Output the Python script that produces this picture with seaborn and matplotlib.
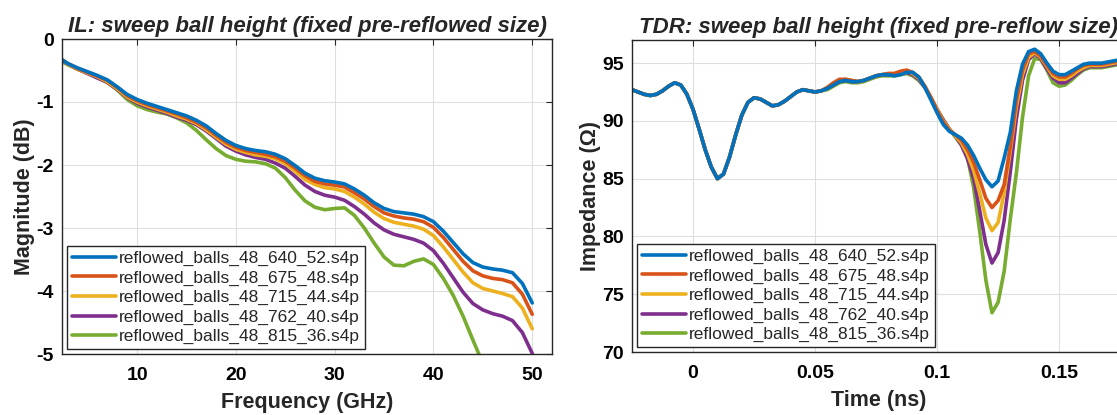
import numpy as np
import pandas as pd
import matplotlib
matplotlib.use('Agg')
import matplotlib.pyplot as plt
import seaborn as sns

labels = ['reflowed_balls_48_640_52.s4p', 'reflowed_balls_48_675_48.s4p',
          'reflowed_balls_48_715_44.s4p', 'reflowed_balls_48_762_40.s4p',
          'reflowed_balls_48_815_36.s4p']
colors = ['#0072BD', '#D95319', '#EDB120', '#7E2F8E', '#77AC30']

# --- insertion loss, dB vs GHz ---
freq_ghz = [2.4, 3, 4, 5, 6, 7, 8, 9, 10, 11, 12, 13, 14, 15, 16, 17, 18, 19, 20,
            21, 22, 23, 24, 25, 26, 27, 28, 29, 30, 31, 32, 33, 34, 35, 36, 37, 38,
            39, 40, 41, 42, 43, 44, 45, 46, 47, 48, 49, 50]

il_640_52 = [-0.33, -0.39, -0.46, -0.52, -0.58, -0.65, -0.76, -0.88, -0.96, -1.02,
             -1.07, -1.12, -1.17, -1.22, -1.29, -1.38, -1.50, -1.61, -1.69, -1.74,
             -1.77, -1.79, -1.83, -1.90, -2.01, -2.13, -2.21, -2.25, -2.27, -2.30,
             -2.38, -2.48, -2.60, -2.69, -2.74, -2.76, -2.78, -2.82, -2.90, -3.05,
             -3.23, -3.41, -3.55, -3.62, -3.65, -3.67, -3.71, -3.88, -4.19]
il_675_48 = [-0.33, -0.39, -0.47, -0.53, -0.59, -0.66, -0.77, -0.90, -0.98, -1.04,
             -1.09, -1.14, -1.19, -1.25, -1.32, -1.41, -1.53, -1.64, -1.72, -1.77,
             -1.80, -1.83, -1.87, -1.94, -2.05, -2.17, -2.26, -2.30, -2.32, -2.35,
             -2.44, -2.54, -2.66, -2.76, -2.81, -2.84, -2.86, -2.90, -2.99, -3.15,
             -3.34, -3.53, -3.68, -3.76, -3.80, -3.82, -3.87, -4.05, -4.37]
il_715_44 = [-0.33, -0.40, -0.48, -0.54, -0.60, -0.68, -0.79, -0.92, -1.00, -1.06,
             -1.11, -1.16, -1.22, -1.27, -1.34, -1.44, -1.56, -1.67, -1.75, -1.80,
             -1.84, -1.86, -1.90, -1.98, -2.10, -2.23, -2.31, -2.36, -2.38, -2.42,
             -2.51, -2.62, -2.75, -2.85, -2.91, -2.94, -2.97, -3.02, -3.12, -3.30,
             -3.50, -3.70, -3.87, -3.96, -4.00, -4.04, -4.09, -4.27, -4.60]
il_762_40 = [-0.34, -0.40, -0.48, -0.55, -0.62, -0.69, -0.80, -0.93, -1.02, -1.08,
             -1.13, -1.18, -1.24, -1.29, -1.36, -1.46, -1.58, -1.70, -1.78, -1.84,
             -1.88, -1.91, -1.97, -2.05, -2.18, -2.32, -2.42, -2.48, -2.51, -2.56,
             -2.66, -2.78, -2.92, -3.03, -3.10, -3.14, -3.18, -3.24, -3.36, -3.56,
             -3.79, -4.02, -4.20, -4.30, -4.36, -4.40, -4.47, -4.66, -4.99]
il_815_36 = [-0.36, -0.41, -0.48, -0.54, -0.61, -0.69, -0.81, -0.96, -1.06, -1.12,
             -1.16, -1.19, -1.25, -1.33, -1.45, -1.60, -1.74, -1.85, -1.91, -1.94,
             -1.95, -1.98, -2.05, -2.20, -2.40, -2.57, -2.67, -2.71, -2.69, -2.68,
             -2.80, -3.00, -3.24, -3.46, -3.59, -3.60, -3.53, -3.49, -3.58, -3.80,
             -4.07, -4.40, -4.78, -5.15, -5.45, -5.70, -5.90, -6.10, -6.35]

# --- TDR, ohm vs ns ---
time_ns = [-0.025, -0.0225, -0.02, -0.0175, -0.015, -0.0125, -0.01, -0.0075, -0.005, -0.0025,
           0.0, 0.0025, 0.005, 0.0075, 0.01, 0.0125, 0.015, 0.0175, 0.02, 0.0225,
           0.025, 0.0275, 0.03, 0.0325, 0.035, 0.0375, 0.04, 0.0425, 0.045, 0.0475,
           0.05, 0.0525, 0.055, 0.0575, 0.06, 0.0625, 0.065, 0.0675, 0.07, 0.0725,
           0.075, 0.0775, 0.08, 0.0825, 0.085, 0.0875, 0.09, 0.0925, 0.095, 0.0975,
           0.1, 0.1025, 0.105, 0.1075, 0.11, 0.1125, 0.115, 0.1175, 0.12, 0.1225,
           0.125, 0.1275, 0.13, 0.1325, 0.135, 0.1375, 0.14, 0.1425, 0.145, 0.1475,
           0.15, 0.1525, 0.155, 0.1575, 0.16, 0.1625, 0.165, 0.1675, 0.17, 0.1725, 0.175]

# all five traces coincide up to ~0.055 ns
tdr_shared = [92.7, 92.5, 92.3, 92.2, 92.3, 92.6, 93.0, 93.3, 93.1, 92.3,
              91.0, 89.3, 87.5, 86.0, 85.0, 85.4, 86.9, 88.8, 90.5, 91.6,
              92.0, 91.9, 91.6, 91.3, 91.4, 91.7, 92.1, 92.5, 92.7, 92.6,
              92.5, 92.6]
tdr_640_52 = [92.8, 93.1, 93.4, 93.5, 93.4, 93.4, 93.5, 93.7, 93.9, 94.0,
              94.0, 93.9, 94.0, 94.2, 94.2, 93.8, 92.9, 91.8, 90.7, 89.7,
              89.1, 88.8, 88.5, 87.9, 87.0, 85.9, 84.9, 84.3, 84.8, 86.8,
              89.0, 92.6, 94.9, 96.0, 96.2, 95.8, 95.0, 94.3, 94.0, 94.0,
              94.3, 94.6, 94.9, 95.0, 95.0, 95.0, 95.1, 95.2, 95.3]
tdr_675_48 = [92.9, 93.3, 93.6, 93.6, 93.5, 93.4, 93.5, 93.7, 93.9, 94.0,
              94.1, 94.1, 94.3, 94.4, 94.2, 93.8, 93.0, 92.0, 90.9, 89.9,
              89.2, 88.8, 88.3, 87.5, 86.4, 84.9, 83.3, 82.5, 83.1, 84.5,
              87.8, 91.8, 94.4, 95.8, 96.0, 95.6, 94.8, 94.1, 93.8, 93.8,
              94.1, 94.5, 94.8, 94.9, 94.9, 94.9, 95.0, 95.1, 95.2]
tdr_715_44 = [92.8, 93.2, 93.5, 93.6, 93.5, 93.4, 93.5, 93.7, 93.9, 94.0,
              94.1, 94.1, 94.2, 94.3, 94.1, 93.7, 93.0, 92.0, 91.0, 90.0,
              89.3, 88.7, 88.1, 87.1, 85.7, 83.7, 81.6, 80.5, 81.2, 83.8,
              87.4, 91.2, 94.0, 95.5, 95.9, 95.5, 94.7, 93.9, 93.6, 93.6,
              93.9, 94.3, 94.6, 94.8, 94.8, 94.8, 94.9, 95.0, 95.1]
tdr_762_40 = [92.8, 93.1, 93.4, 93.5, 93.4, 93.4, 93.5, 93.7, 93.9, 94.0,
              94.0, 94.0, 94.1, 94.2, 94.0, 93.6, 92.9, 92.0, 91.0, 90.1,
              89.3, 88.7, 87.9, 86.7, 85.0, 82.2, 79.3, 77.7, 78.6, 81.4,
              85.6, 90.2, 93.5, 95.3, 95.8, 95.4, 94.5, 93.7, 93.3, 93.3,
              93.7, 94.1, 94.5, 94.7, 94.7, 94.7, 94.8, 94.9, 95.0]
tdr_815_36 = [92.7, 93.0, 93.3, 93.4, 93.3, 93.3, 93.4, 93.6, 93.8, 93.9,
              93.9, 93.9, 94.0, 94.1, 93.9, 93.5, 92.9, 92.0, 91.0, 90.1,
              89.3, 88.6, 87.9, 86.8, 84.2, 80.4, 76.2, 73.4, 74.3, 77.0,
              81.5, 85.5, 90.3, 93.9, 95.4, 95.3, 94.4, 93.3, 93.0, 93.1,
              93.5, 94.0, 94.4, 94.6, 94.6, 94.6, 94.7, 94.8, 94.9]

il_series = [il_640_52, il_675_48, il_715_44, il_762_40, il_815_36]
tdr_series = [tdr_shared + t for t in
              [tdr_640_52, tdr_675_48, tdr_715_44, tdr_762_40, tdr_815_36]]

sns.set_theme(style='whitegrid')
plt.rcParams['font.family'] = ['Liberation Sans', 'DejaVu Sans']
plt.rcParams['axes.unicode_minus'] = False

W, H = 1117, 415
fig = plt.figure(figsize=(W / 100, H / 100), dpi=100)
ax1 = fig.add_axes([62 / W, 61 / H, 490 / W, 315 / H])
ax2 = fig.add_axes([632 / W, 63 / H, 493 / W, 312 / H])


def draw(ax, x, series):
    # blue ends up on top, legend keeps the original order
    for lab, col, y in reversed(list(zip(labels, colors, series))):
        sns.lineplot(x=x, y=y, color=col, lw=2.6, label=lab, ax=ax,
                     sort=False, estimator=None,
                     solid_joinstyle='round', solid_capstyle='round')
    h, l = ax.get_legend_handles_labels()
    leg = ax.legend(h[::-1], l[::-1], loc='lower left', fontsize=12.5,
                    frameon=True, fancybox=False, framealpha=1,
                    edgecolor='#262626', borderaxespad=0.3, borderpad=0.25,
                    handlelength=2.55, handletextpad=0.2, labelspacing=0.25)
    leg.get_frame().set_linewidth(1.0)


def style(ax, title, xlabel, ylabel):
    ax.set_facecolor('white')
    ax.grid(True, color='#dedede', lw=0.8)
    for s in ax.spines.values():
        s.set_color('#262626')
        s.set_linewidth(1.0)
    ax.tick_params(direction='in', length=4, width=0.8, top=True, right=True,
                   labelsize=14, colors='#262626')
    ax.tick_params(axis='x', pad=9)
    ax.tick_params(axis='y', pad=6)
    for t in ax.get_xticklabels() + ax.get_yticklabels():
        t.set_fontweight('bold')
        t.set_color('#000000')
    ax.set_title(title, fontsize=16, fontweight='bold', style='italic', pad=5)
    ax.set_xlabel(xlabel, fontsize=15.5, fontweight='bold', labelpad=6)
    ax.set_ylabel(ylabel, fontsize=15.5, fontweight='bold', labelpad=1)


draw(ax1, freq_ghz, il_series)
ax1.set_xlim(2.4, 52)
ax1.set_ylim(-5, 0)
ax1.set_xticks([10, 20, 30, 40, 50])
ax1.set_yticks([0, -1, -2, -3, -4, -5])
ax1.set_yticklabels(['0', '-1', '-2', '-3', '-4', '-5'])
style(ax1, 'IL: sweep ball height (fixed pre-reflowed size)',
      'Frequency (GHz)', 'Magnitude (dB)')

draw(ax2, time_ns, tdr_series)
ax2.set_xlim(-0.025, 0.177)
ax2.set_ylim(70, 97)
ax2.set_xticks([0, 0.05, 0.1, 0.15])
ax2.set_xticklabels(['0', '0.05', '0.1', '0.15'])
ax2.set_yticks([70, 75, 80, 85, 90, 95])
style(ax2, 'TDR: sweep ball height (fixed pre-reflow size)',
      'Time (ns)', 'Impedance (\u03a9)')

fig.savefig('out.png', dpi=100, facecolor='white')
